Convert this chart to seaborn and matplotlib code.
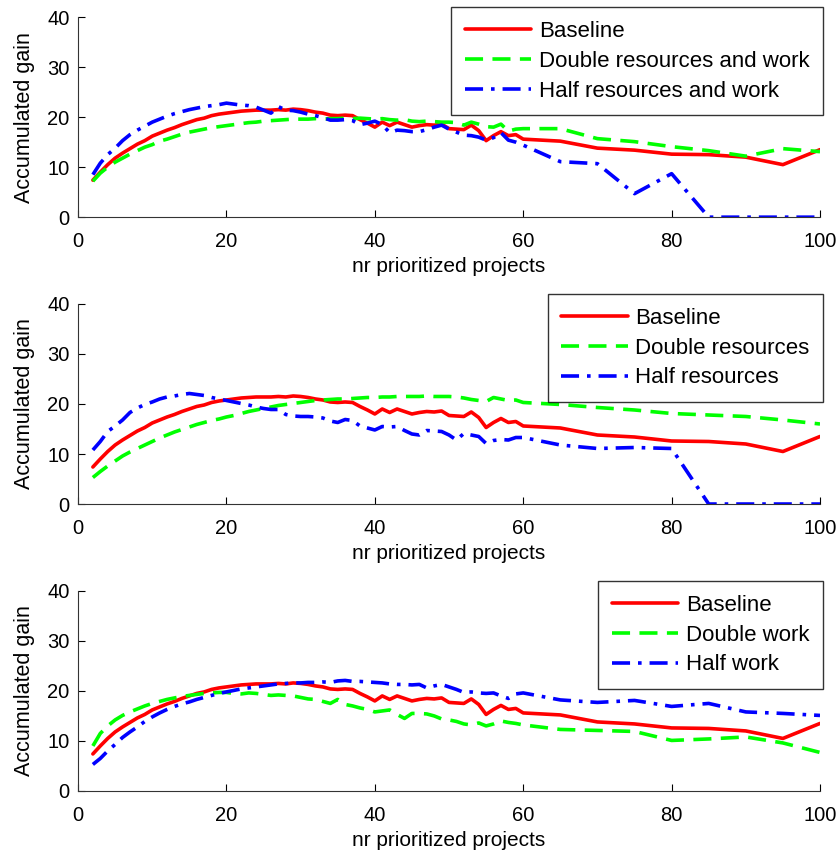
import matplotlib
matplotlib.use("Agg")
import matplotlib.pyplot as plt
import seaborn as sns
import pandas as pd

# x-positions: nr prioritized projects
nr_projects = list(range(2, 61)) + [65, 70, 75, 80, 85, 90, 95, 100]

baseline = [7.4, 9.0, 10.5, 11.8, 12.8, 13.7, 14.6, 15.3, 16.2, 16.8,
            17.4, 17.9, 18.5, 19.0, 19.5, 19.8, 20.3, 20.6, 20.8, 21.0,
            21.2, 21.3, 21.4, 21.4, 21.4, 21.5, 21.4, 21.6, 21.5, 21.3,
            21.0, 20.8, 20.4, 20.3, 20.4, 20.3, 19.5, 18.8, 18.0, 19.0,
            18.3, 19.0, 18.5, 18.0, 18.3, 18.5, 18.4, 18.6, 17.7, 17.6,
            17.5, 18.4, 17.3, 15.3, 16.3, 17.1, 16.3, 16.5, 15.6,
            15.2, 13.8, 13.4, 12.6, 12.5, 12.0, 10.5, 13.5]

double_res_work = [7.2, 8.8, 10.0, 11.0, 11.8, 12.6, 13.3, 14.0, 14.5, 15.2,
                   15.6, 16.1, 16.6, 17.0, 17.3, 17.6, 17.9, 18.1, 18.3, 18.5,
                   18.7, 18.9, 19.0, 19.2, 19.3, 19.4, 19.5, 19.6, 19.6, 19.6,
                   19.7, 19.6, 19.7, 19.7, 19.8, 19.7, 19.8, 19.7, 19.6, 19.7,
                   19.5, 19.4, 19.5, 19.2, 19.1, 19.2, 19.1, 19.0, 19.0, 18.9,
                   18.4, 19.0, 18.6, 18.1, 18.0, 18.6, 17.2, 17.6, 17.7,
                   17.7, 15.7, 15.1, 14.1, 13.3, 12.2, 13.7, 13.1]

half_res_work = [8.5, 10.8, 12.5, 13.8, 15.3, 16.5, 17.4, 18.2, 19.0, 19.6,
                 20.2, 20.7, 21.1, 21.5, 21.8, 22.1, 22.3, 22.5, 22.8, 22.6,
                 22.4, 22.3, 22.0, 21.4, 20.8, 22.1, 21.4, 21.3, 21.0, 20.6,
                 20.3, 19.9, 19.4, 19.4, 19.5, 19.3, 18.5, 18.8, 19.2, 18.5,
                 16.9, 17.4, 17.3, 17.1, 17.1, 17.5, 18.0, 18.4, 17.6, 17.0,
                 16.4, 16.3, 16.0, 15.4, 15.9, 16.9, 15.4, 15.0, 14.4,
                 11.1, 10.7, 4.7, 8.7, 0.0, 0.0, 0.0, 0.0]

double_res = [5.3, 6.5, 7.6, 8.6, 9.6, 10.4, 11.1, 11.8, 12.5, 13.2,
              13.8, 14.4, 14.9, 15.4, 15.9, 16.3, 16.7, 17.0, 17.4, 17.7,
              18.1, 18.5, 18.8, 19.1, 19.4, 19.7, 19.9, 20.1, 20.3, 20.5,
              20.7, 20.8, 20.9, 21.0, 21.0, 21.1, 21.2, 21.3, 21.3, 21.4,
              21.4, 21.5, 21.5, 21.5, 21.5, 21.6, 21.5, 21.5, 21.5, 21.4,
              21.2, 20.9, 20.7, 20.5, 21.3, 21.0, 20.7, 20.8, 20.3,
              19.9, 19.3, 18.8, 18.1, 17.8, 17.5, 16.8, 16.0]

half_res = [10.8, 12.5, 14.5, 15.6, 16.8, 18.3, 19.2, 19.9, 20.4, 21.0,
            21.4, 21.6, 21.9, 22.1, 21.9, 21.7, 21.3, 21.0, 20.7, 20.4,
            20.1, 19.8, 19.4, 19.1, 18.9, 18.9, 17.9, 17.6, 17.5, 17.5,
            17.4, 17.2, 16.6, 16.3, 16.9, 16.7, 15.6, 15.2, 14.8, 15.5,
            15.4, 15.5, 14.7, 14.0, 13.8, 14.7, 14.6, 14.5, 13.8, 12.8,
            14.1, 13.8, 13.5, 12.1, 12.7, 12.9, 12.8, 13.3, 13.3,
            11.8, 11.1, 11.3, 11.1, 0.0, 0.0, 0.0, 0.0]

double_work = [9.0, 11.5, 13.0, 14.2, 15.1, 15.8, 16.4, 17.0, 17.5, 17.9,
               18.3, 18.6, 18.9, 19.1, 19.3, 19.5, 19.6, 19.7, 19.7, 19.5,
               19.4, 19.6, 19.5, 19.3, 19.1, 19.2, 19.1, 19.0, 18.7, 18.4,
               18.3, 17.9, 17.5, 18.3, 17.3, 17.0, 16.6, 16.3, 15.8, 16.0,
               16.2, 15.3, 14.5, 15.5, 15.5, 15.4, 15.0, 14.4, 14.2, 13.9,
               13.4, 13.2, 13.6, 13.0, 13.4, 14.0, 13.7, 13.5, 13.2,
               12.3, 12.1, 11.9, 10.1, 10.4, 10.8, 9.6, 7.7]

half_work = [5.3, 6.5, 8.0, 9.3, 10.7, 11.8, 12.8, 13.9, 14.8, 15.6,
             16.3, 16.9, 17.4, 17.8, 18.3, 18.7, 19.1, 19.5, 19.8, 20.1,
             20.4, 20.6, 20.8, 21.0, 21.2, 21.4, 21.5, 21.6, 21.6, 21.7,
             21.7, 21.8, 21.7, 22.0, 22.1, 21.9, 21.9, 21.8, 21.7, 21.6,
             21.4, 21.3, 21.3, 21.2, 21.3, 20.6, 21.0, 21.3, 20.8, 20.3,
             19.7, 19.8, 19.6, 19.5, 19.6, 19.0, 18.5, 19.4, 19.6,
             18.2, 17.7, 18.1, 16.9, 17.5, 15.8, 15.5, 15.1]

panels = [
    [("Baseline", baseline), ("Double resources and work", double_res_work), ("Half resources and work", half_res_work)],
    [("Baseline", baseline), ("Double resources", double_res), ("Half resources", half_res)],
    [("Baseline", baseline), ("Double work", double_work), ("Half work", half_work)],
]

styles = [
    dict(color="#ff0000", linestyle="-"),
    dict(color="#00ff00", linestyle=(0, (5, 2.6))),
    dict(color="#0000ff", linestyle=(0, (5, 2.2, 1, 2.2))),
]

sns.set_theme(style="ticks")
plt.rcParams["font.family"] = ["Liberation Sans", "DejaVu Sans"]
plt.rcParams["text.color"] = "black"
plt.rcParams["axes.labelcolor"] = "black"

fig = plt.figure(figsize=(8.4, 8.55), dpi=100)
bottoms = [0.746, 0.4105, 0.0749]

for bottom, series in zip(bottoms, panels):
    ax = fig.add_axes([0.0929, bottom, 0.8833, 0.234])
    for (label, vals), st in zip(series, styles):
        df = pd.DataFrame({"x": nr_projects, "y": vals})
        sns.lineplot(data=df, x="x", y="y", ax=ax, label=label, lw=2.6, **st)

    ax.set_xlim(0, 100)
    ax.set_ylim(0, 40)
    ax.set_xticks([0, 20, 40, 60, 80, 100])
    ax.set_yticks([0, 10, 20, 30, 40])
    ax.tick_params(direction="in", length=5, width=0.8, labelsize=14.5, colors="black", pad=6)
    ax.tick_params(axis="x", pad=11)
    for side in ["top", "right"]:
        ax.spines[side].set_visible(False)
    for side in ["left", "bottom"]:
        ax.spines[side].set_color("#333333")
        ax.spines[side].set_linewidth(0.8)
    ax.set_xlabel("nr prioritized projects", fontsize=15, labelpad=4)
    ax.set_ylabel("Accumulated gain", fontsize=15.5, labelpad=9)

    leg = ax.legend(loc="upper right", bbox_to_anchor=(1.004, 1.048), fontsize=16,
                    frameon=True, fancybox=False, edgecolor="black",
                    handlelength=3.0, borderpad=0.6, labelspacing=0.4,
                    handletextpad=0.35, borderaxespad=0)
    leg.get_frame().set_linewidth(1.0)

fig.savefig("out.png", dpi=100)
